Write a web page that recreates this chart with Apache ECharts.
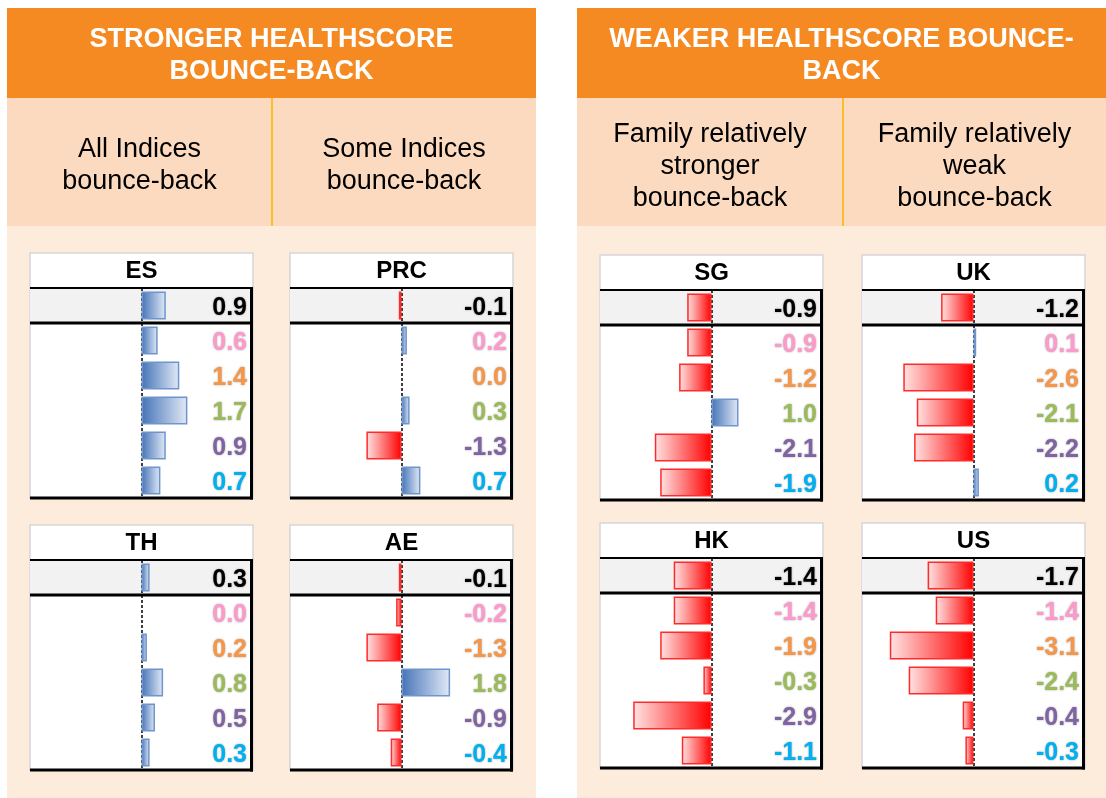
<!DOCTYPE html>
<html>
<head>
<meta charset="utf-8">
<title>Healthscore bounce-back</title>
<script src="https://cdn.jsdelivr.net/npm/echarts@6/dist/echarts.min.js"></script>
<style>
    html, body { margin: 0; padding: 0; background: #ffffff; }
    #main { width: 1106px; height: 798px; }
</style>
</head>
<body>
<div id="main"></div>
<script>
// ---- data ----
let panelTitles = ['STRONGER HEALTHSCORE\nBOUNCE-BACK', 'WEAKER HEALTHSCORE BOUNCE-\nBACK'];
let columnTitles = ['All Indices\nbounce-back', 'Some Indices\nbounce-back',
    'Family relatively\nstronger\nbounce-back', 'Family relatively\nweak\nbounce-back'];
let countries = ['ES', 'PRC', 'TH', 'AE', 'SG', 'UK', 'HK', 'US'];
let rowNames = ['Healthscore', 'Index 1', 'Index 2', 'Index 3', 'Index 4', 'Index 5'];

let esValues = [0.9, 0.6, 1.4, 1.7, 0.9, 0.7];
let prcValues = [-0.1, 0.2, 0.0, 0.3, -1.3, 0.7];
let thValues = [0.3, 0.0, 0.2, 0.8, 0.5, 0.3];
let aeValues = [-0.1, -0.2, -1.3, 1.8, -0.9, -0.4];
let sgValues = [-0.9, -0.9, -1.2, 1.0, -2.1, -1.9];
let ukValues = [-1.2, 0.1, -2.6, -2.1, -2.2, 0.2];
let hkValues = [-1.4, -1.4, -1.9, -0.3, -2.9, -1.1];
let usValues = [-1.7, -1.4, -3.1, -2.4, -0.4, -0.3];
let countryValues = [esValues, prcValues, thValues, aeValues, sgValues, ukValues, hkValues, usValues];

// ---- layout / styles ----
const FONT = "'Liberation Sans', Arial, sans-serif";
let rowColors = ['#000000', '#FF99CC', '#F79646', '#9BBB59', '#8064A2', '#00B0F0'];
let panels = [
    {x: 7, w: 529, split: 272, subY: 166},
    {x: 577, w: 529, split: 843, subY: 167}
];
// top-left corner of each small chart box
let boxes = [[30, 253], [290, 253], [30, 525], [290, 525], [600, 255], [862, 255], [600, 523], [862, 523]];
const BOX_W = 223, TITLE_H = 35, ROW_H = 35;
const ZERO_OFF = 111.5, PX_PER_UNIT = 27;

let myChart = echarts.init(document.getElementById('main'));

let graphics = [];
let grids = [], xAxes = [], yAxes = [], series = [];

// 面板背景和标题
panels.forEach(function (p, i) {
    graphics.push({type: 'rect', z: 0, shape: {x: p.x, y: 8, width: p.w, height: 90}, style: {fill: '#F58A23'}});
    graphics.push({type: 'rect', z: 0, shape: {x: p.x, y: 98, width: p.w, height: 128}, style: {fill: '#FCDABF'}});
    graphics.push({type: 'rect', z: 0, shape: {x: p.x, y: 226, width: p.w, height: 572}, style: {fill: '#FDEBDC'}});
    graphics.push({type: 'line', z: 1, shape: {x1: p.split, y1: 98, x2: p.split, y2: 226}, style: {stroke: '#F9BE2A', lineWidth: 2}});
    graphics.push({
        type: 'text', z: 2,
        style: {
            text: panelTitles[i], x: p.x + p.w / 2, y: 56,
            textAlign: 'center', textVerticalAlign: 'middle', align: 'center', verticalAlign: 'middle',
            font: 'bold 27px ' + FONT, fill: '#ffffff', lineHeight: 32
        }
    });
    let cols = [(p.x + p.split) / 2, (p.split + p.x + p.w) / 2];
    cols.forEach(function (cx, j) {
        graphics.push({
            type: 'text', z: 2,
            style: {
                text: columnTitles[i * 2 + j], x: cx, y: p.subY,
                textAlign: 'center', textVerticalAlign: 'middle', align: 'center', verticalAlign: 'middle',
                font: '27px ' + FONT, fill: '#000000', lineHeight: 32
            }
        });
    });
});

// 小图
countries.forEach(function (name, i) {
    let bx = boxes[i][0], by = boxes[i][1];
    let top = by + TITLE_H, h = ROW_H * rowNames.length;
    let vals = countryValues[i];

    // frame
    graphics.push({type: 'rect', z: 1, shape: {x: bx, y: by, width: BOX_W, height: TITLE_H}, style: {fill: '#ffffff', stroke: '#D6D6D6', lineWidth: 1.5}});
    graphics.push({type: 'rect', z: 1, shape: {x: bx, y: top, width: BOX_W, height: h}, style: {fill: '#ffffff', stroke: '#D6D6D6', lineWidth: 1.5}});
    graphics.push({type: 'rect', z: 1, shape: {x: bx, y: top, width: BOX_W, height: ROW_H}, style: {fill: '#F2F2F2'}});
    graphics.push({
        type: 'text', z: 2,
        style: {
            text: name, x: bx + BOX_W / 2, y: by + TITLE_H / 2 + 1,
            textAlign: 'center', textVerticalAlign: 'middle', align: 'center', verticalAlign: 'middle',
            font: 'bold 24px ' + FONT, fill: '#000000'
        }
    });
    graphics.push({type: 'line', z: 20, shape: {x1: bx, y1: top, x2: bx + BOX_W, y2: top}, style: {stroke: '#000', lineWidth: 2}});
    graphics.push({type: 'line', z: 20, shape: {x1: bx, y1: top + ROW_H, x2: bx + BOX_W, y2: top + ROW_H}, style: {stroke: '#000', lineWidth: 3}});
    graphics.push({type: 'line', z: 20, shape: {x1: bx + BOX_W - 1.5, y1: top, x2: bx + BOX_W - 1.5, y2: top + h + 1.5}, style: {stroke: '#000', lineWidth: 3}});
    graphics.push({type: 'line', z: 20, shape: {x1: bx, y1: top + h, x2: bx + BOX_W, y2: top + h}, style: {stroke: '#000', lineWidth: 3}});

    grids.push({left: bx, top: top, width: BOX_W, height: h, containLabel: false});
    xAxes.push({
        gridIndex: i, type: 'value', show: false,
        min: -ZERO_OFF / PX_PER_UNIT, max: (BOX_W - ZERO_OFF) / PX_PER_UNIT
    });

    let rich = {};
    rowColors.forEach(function (c, k) {
        rich['c' + k] = {
            color: c, fontSize: 25, fontWeight: 'bold', fontFamily: FONT,
            padding: [6, 0, 0, 0],
            textShadowColor: 'rgba(0,0,0,0.4)', textShadowBlur: 2
        };
    });
    yAxes.push({
        gridIndex: i, type: 'category', data: rowNames, inverse: true, position: 'right',
        axisLine: {show: false}, axisTick: {show: false}, splitLine: {show: false},
        axisLabel: {
            inside: true, margin: 6, interval: 0,
            formatter: function (v, idx) {
                return '{c' + idx + '|' + vals[idx].toFixed(1) + '}';
            },
            rich: rich
        },
        z: 30
    });

    series.push({
        type: 'bar', xAxisIndex: i, yAxisIndex: i, barCategoryGap: '20%', z: 5,
        data: vals.map(function (v) {
            let pos = v >= 0;
            return {
                value: v,
                itemStyle: {
                    color: new echarts.graphic.LinearGradient(0, 0, 1, 0, pos
                        ? [{offset: 0, color: '#4574B8'}, {offset: 1, color: '#E2EAF6'}]
                        : [{offset: 0, color: '#FFE4E4'}, {offset: 1, color: '#FF0000'}]),
                    borderColor: pos ? '#6F95CC' : '#FF2A2A',
                    borderWidth: v === 0 ? 0 : 1.5
                }
            };
        }),
        markLine: {
            silent: true, symbol: 'none', animation: false,
            label: {show: false},
            lineStyle: {color: '#000000', type: [3, 2], width: 1.5},
            data: [{xAxis: 0}]
        }
    });
});

let option = {
    backgroundColor: '#ffffff',
    animation: false,
    graphic: graphics,
    grid: grids,
    xAxis: xAxes,
    yAxis: yAxes,
    series: series
};
myChart.setOption(option);
</script>
</body>
</html>
